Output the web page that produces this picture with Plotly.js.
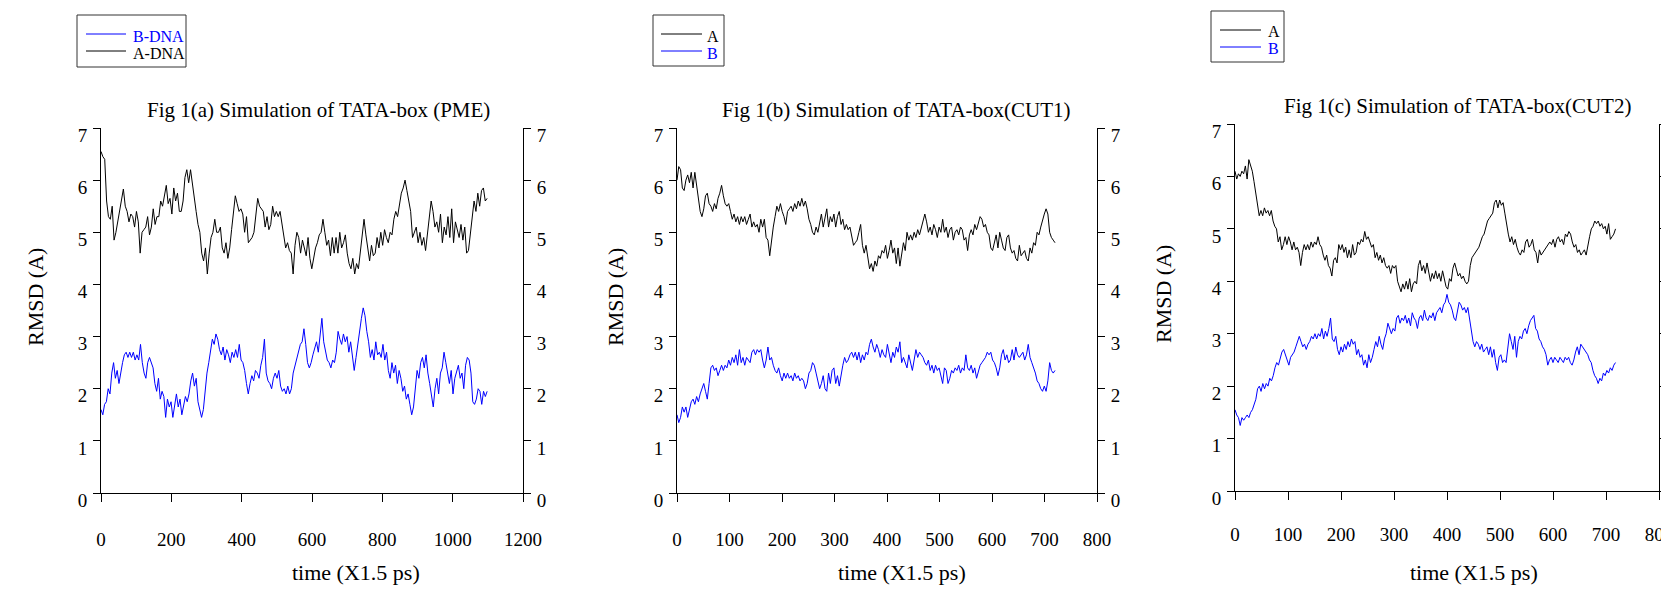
<!DOCTYPE html>
<html>
<head>
<meta charset="utf-8">
<script src="https://cdn.plot.ly/plotly-3.0.1.min.js"></script>
<style>html,body{margin:0;padding:0;background:#fff;}#chart{width:1661px;height:597px;}</style>
</head>
<body>
<div id="chart"></div>
<script>
// ---------------- DATA ----------------
const titles = ["Fig 1(a) Simulation of TATA-box (PME)", "Fig 1(b) Simulation of TATA-box(CUT1)", "Fig 1(c) Simulation of TATA-box(CUT2)"];
const xTitle = "time (X1.5 ps)";
const yTitle = "RMSD (A)";
const names1 = ["B-DNA", "A-DNA"];
const names2 = ["A", "B"];
const xRanges = [[0, 1200], [0, 800], [0, 800]];
const xSteps = [200, 100, 100];
const yRange = [0, 7];
const endTimes = [1098, 720, 718];

// Panel (a) PME
const pmeA = [6.55,6.45,6.4,5.6,5.3,5.25,5.5,4.85,5.0,5.2,5.46,5.6,5.83,5.5,5.4,5.2,5.35,5.3,5.1,5.4,5.2,4.6,5.0,5.05,5.1,5.3,4.95,5.1,5.45,5.15,5.3,5.3,5.6,5.5,5.7,5.9,5.55,5.65,5.35,5.85,5.6,5.75,5.4,5.4,5.6,6.05,6.2,5.95,6.2,5.9,5.6,5.4,5.15,5.0,4.6,4.45,4.7,4.2,4.6,4.9,5.0,5.25,5.0,5.0,5.1,4.7,4.6,4.8,4.5,4.7,5.05,5.35,5.7,5.55,5.4,5.45,5.35,5.0,5.3,4.8,4.85,4.9,5.0,5.35,5.65,5.5,5.45,5.4,5.1,5.3,5.05,5.15,5.5,5.3,5.4,5.3,5.4,5.15,4.9,4.7,4.8,4.65,4.6,4.2,4.75,5.0,4.9,4.6,4.85,4.7,4.55,4.9,4.5,4.3,4.5,4.7,4.8,4.95,5.0,5.25,5.0,4.75,4.85,4.55,4.9,4.6,4.9,4.6,5.0,4.7,4.8,4.95,4.6,4.4,4.3,4.5,4.2,4.4,4.3,4.6,4.9,5.25,4.95,4.7,4.45,4.75,4.55,4.6,4.9,4.7,5.0,4.75,5.05,4.9,4.8,5.0,4.95,5.25,5.4,5.3,5.55,5.75,5.85,6.0,5.8,5.6,5.4,4.9,5.0,5.1,4.8,5.0,4.75,4.9,4.65,5.0,5.35,5.6,5.4,5.1,5.2,5.0,5.35,4.8,5.1,4.95,5.3,4.9,5.45,4.8,5.2,5.05,4.9,5.15,4.85,5.1,4.6,4.65,5.0,5.25,5.6,5.4,5.75,5.5,5.8,5.85,5.6,5.65];
const pmeB = [1.6,1.5,1.7,1.75,2.0,1.9,2.3,2.5,2.2,2.35,2.1,2.35,2.5,2.65,2.7,2.6,2.7,2.6,2.7,2.55,2.65,2.55,2.85,2.5,2.3,2.2,2.5,2.6,2.5,2.4,2.1,1.95,2.2,1.8,1.95,1.85,1.45,1.8,1.65,1.75,1.45,1.7,1.9,1.65,1.8,1.5,1.7,1.85,1.75,1.9,2.15,2.3,2.05,2.2,1.75,1.6,1.45,1.6,2.0,2.3,2.5,2.7,2.95,2.85,3.05,2.95,2.75,2.65,2.8,2.55,2.75,2.65,2.5,2.7,2.6,2.75,2.6,2.85,2.55,2.5,2.35,2.1,1.9,2.1,2.25,2.15,2.35,2.3,2.2,2.45,2.6,2.95,2.3,2.15,2.1,2.0,2.2,2.3,2.2,2.35,2.05,1.95,2.0,1.9,2.05,1.9,2.0,2.3,2.45,2.6,2.75,2.85,2.9,3.15,2.85,2.5,2.4,2.5,2.65,2.8,2.9,2.7,3.05,3.35,2.9,2.7,2.55,2.5,2.4,2.55,2.5,2.7,3.1,2.95,2.85,3.05,2.9,3.0,2.7,2.9,2.6,2.35,2.6,2.85,3.2,3.35,3.55,3.4,3.1,2.9,2.6,2.75,2.55,2.9,2.65,2.7,2.6,2.85,2.55,2.7,2.35,2.2,2.5,2.3,2.45,2.1,2.35,2.2,1.95,2.05,1.8,1.9,1.7,1.5,1.65,2.0,2.35,2.2,2.5,2.6,2.4,2.65,2.3,2.1,1.85,1.65,2.0,2.2,1.9,2.3,2.4,2.7,2.5,2.3,2.1,2.35,1.9,2.2,2.35,2.45,2.2,2.3,2.0,2.45,2.6,2.55,2.3,1.75,1.7,1.8,2.0,1.95,1.7,1.95,1.85,1.95];

// Panel (b) CUT1
const cut1A = [6.0,6.26,6.2,5.85,5.8,6.0,6.1,5.95,6.15,5.85,6.15,5.9,5.6,5.4,5.3,5.45,5.7,5.75,5.55,5.5,5.4,5.55,5.45,5.65,5.75,5.9,5.7,5.55,5.5,5.55,5.4,5.25,5.35,5.2,5.3,5.15,5.3,5.2,5.3,5.15,5.25,5.35,5.1,5.2,5.1,5.15,5.0,5.25,5.1,5.25,4.9,4.85,4.55,4.85,5.1,5.3,5.5,5.4,5.55,5.4,5.3,5.15,5.4,5.45,5.5,5.4,5.55,5.45,5.6,5.5,5.65,5.5,5.6,5.45,5.25,5.15,5.0,4.95,5.1,5.0,5.2,5.35,5.1,5.25,5.45,5.1,5.3,5.2,5.35,5.1,5.3,5.4,5.15,5.25,5.05,5.15,5.05,5.1,4.9,4.75,4.8,4.85,5.0,5.15,4.75,4.6,4.75,4.5,4.3,4.4,4.25,4.45,4.35,4.55,4.5,4.65,4.6,4.75,4.5,4.65,4.85,4.6,4.7,4.4,4.7,4.35,4.6,4.8,4.65,5.0,4.85,4.95,4.85,5.0,4.9,5.05,4.95,5.1,5.2,5.35,5.2,5.0,5.1,4.95,5.15,5.05,4.9,5.1,5.0,5.25,5.0,5.1,4.9,5.05,5.1,4.85,5.0,5.05,4.95,5.1,5.05,4.85,4.9,4.65,4.95,5.05,4.95,5.15,5.05,5.2,5.3,5.25,5.1,5.15,5.0,4.95,4.7,4.65,4.8,4.95,4.7,5.0,4.85,4.7,4.65,4.9,4.95,4.7,4.6,4.65,4.5,4.45,4.75,4.55,4.6,4.65,4.5,4.45,4.7,4.6,4.8,4.75,5.0,4.95,5.1,5.25,5.35,5.45,5.35,5.0,4.9,4.85,4.8];
const cut1B = [1.5,1.35,1.45,1.65,1.55,1.65,1.45,1.6,1.75,1.8,1.7,1.85,1.75,1.9,2.0,2.1,1.95,1.8,2.1,2.4,2.45,2.35,2.4,2.25,2.35,2.45,2.35,2.45,2.4,2.55,2.45,2.6,2.5,2.65,2.45,2.75,2.5,2.6,2.45,2.6,2.55,2.5,2.7,2.75,2.65,2.75,2.7,2.75,2.55,2.4,2.55,2.8,2.55,2.6,2.45,2.35,2.3,2.4,2.25,2.15,2.3,2.2,2.3,2.2,2.25,2.15,2.3,2.2,2.25,2.15,2.2,2.15,2.0,2.1,2.3,2.35,2.5,2.45,2.3,2.15,2.0,2.1,2.25,2.0,1.95,2.3,2.1,2.35,2.4,2.1,2.25,2.05,2.3,2.45,2.6,2.5,2.55,2.65,2.7,2.6,2.7,2.55,2.7,2.5,2.65,2.55,2.7,2.65,2.85,2.95,2.8,2.7,2.85,2.75,2.6,2.75,2.65,2.6,2.85,2.7,2.5,2.7,2.6,2.8,2.7,2.9,2.5,2.6,2.5,2.4,2.65,2.5,2.35,2.55,2.75,2.6,2.7,2.65,2.6,2.5,2.45,2.55,2.35,2.45,2.3,2.45,2.35,2.4,2.25,2.1,2.4,2.35,2.1,2.2,2.35,2.3,2.4,2.35,2.45,2.3,2.4,2.35,2.65,2.4,2.35,2.45,2.3,2.4,2.2,2.35,2.45,2.5,2.55,2.6,2.7,2.65,2.7,2.55,2.5,2.4,2.25,2.4,2.65,2.75,2.55,2.65,2.5,2.55,2.75,2.55,2.8,2.65,2.6,2.65,2.7,2.55,2.65,2.85,2.6,2.5,2.4,2.3,2.15,2.1,2.0,1.95,2.05,1.95,2.15,2.5,2.35,2.3,2.35];

// Panel (c) CUT2
const cut2A = [6.1,5.95,6.05,6.0,6.1,6.05,6.2,5.95,6.32,6.2,6.1,5.9,5.65,5.4,5.25,5.35,5.25,5.4,5.3,5.35,5.25,5.35,5.15,5.05,5.0,4.75,4.85,4.6,4.7,4.85,4.7,4.85,4.75,4.6,4.75,4.6,4.65,4.55,4.3,4.55,4.7,4.6,4.7,4.6,4.75,4.65,4.75,4.7,4.85,4.7,4.65,4.5,4.4,4.5,4.3,4.25,4.1,4.4,4.45,4.35,4.7,4.6,4.7,4.55,4.65,4.45,4.6,4.45,4.7,4.5,4.55,4.75,4.7,4.8,4.75,4.95,4.8,4.85,4.75,4.65,4.7,4.45,4.55,4.4,4.5,4.35,4.45,4.3,4.25,4.3,4.15,4.3,4.25,4.3,4.0,3.9,3.8,3.95,3.85,4.0,3.85,4.05,3.8,3.95,4.0,3.95,4.3,4.4,4.2,4.3,4.15,4.35,4.2,4.0,4.15,4.05,4.2,4.05,4.15,4.0,4.2,4.05,3.9,3.85,4.05,4.0,4.25,4.35,4.2,4.1,4.15,4.05,4.1,4.0,3.95,4.0,4.3,4.45,4.5,4.55,4.6,4.65,4.75,4.85,4.9,5.05,5.15,5.2,5.25,5.3,5.5,5.55,5.4,5.55,5.45,5.5,5.3,5.05,4.9,4.75,4.85,4.7,4.8,4.65,4.55,4.5,4.6,4.55,4.75,4.8,4.65,4.7,4.8,4.6,4.55,4.35,4.6,4.5,4.55,4.6,4.65,4.7,4.75,4.7,4.8,4.65,4.8,4.85,4.75,4.8,4.7,4.9,4.85,4.95,4.9,4.75,4.65,4.7,4.55,4.6,4.5,4.55,4.6,4.5,4.7,4.85,5.0,5.05,5.15,5.1,5.15,5.05,5.1,5.0,5.05,4.9,5.1,4.8,4.85,4.9,5.0];
const cut2B = [1.55,1.45,1.4,1.25,1.4,1.35,1.4,1.45,1.4,1.5,1.55,1.65,1.75,1.95,2.0,1.9,2.05,1.95,2.05,2.0,2.15,2.1,2.2,2.35,2.45,2.4,2.55,2.65,2.7,2.6,2.5,2.4,2.55,2.6,2.65,2.75,2.85,2.95,2.85,2.75,2.8,2.7,2.8,2.85,2.95,2.9,3.0,2.9,3.0,2.95,3.1,2.9,3.05,2.95,3.1,3.3,2.9,2.85,2.95,2.7,2.6,2.75,2.65,2.8,2.7,2.85,2.75,2.9,2.8,2.85,2.6,2.7,2.55,2.6,2.4,2.5,2.35,2.6,2.45,2.55,2.7,2.85,2.75,2.95,2.8,2.7,2.9,3.0,3.2,3.1,3.0,3.1,3.05,3.3,3.35,3.2,3.3,3.25,3.35,3.2,3.3,3.15,3.4,3.3,3.25,3.1,3.3,3.35,3.25,3.45,3.3,3.25,3.35,3.3,3.4,3.25,3.4,3.45,3.5,3.4,3.55,3.6,3.75,3.6,3.55,3.45,3.3,3.25,3.45,3.6,3.55,3.45,3.5,3.4,3.5,3.25,3.0,2.85,2.75,2.85,2.8,2.7,2.8,2.65,2.7,2.75,2.6,2.75,2.55,2.7,2.45,2.3,2.55,2.6,2.45,2.5,2.45,2.7,3.0,2.85,2.7,2.95,2.55,2.85,2.95,2.9,3.05,3.1,3.0,3.15,3.25,3.3,3.35,3.1,3.05,2.9,2.85,2.75,2.7,2.6,2.4,2.5,2.55,2.45,2.55,2.5,2.45,2.55,2.5,2.45,2.55,2.5,2.55,2.45,2.4,2.5,2.65,2.75,2.6,2.8,2.75,2.7,2.65,2.6,2.5,2.45,2.3,2.2,2.15,2.05,2.15,2.1,2.25,2.2,2.3,2.25,2.35,2.3,2.4,2.45];

// ---------------- LAYOUT GEOMETRY (pixels in the 1661x597 figure) ----------------
const W = 1661, H = 597;
const FONT = "Liberation Serif, Times New Roman, serif";
const BLUE = "#0000ff";
const panels = [
  {x0: 101, x1: 523, top: 128, bot: 493, title: [318, 110], ytitle: [35, 297], xtitle: [356, 572], xstand: 21,
   box: [77, 15, 186, 67], rows: [34, 51], line: [86, 126], text: 131, rightLabels: true},
  {x0: 677, x1: 1097, top: 128, bot: 493, title: [897, 110], ytitle: [615, 297], xtitle: [902, 572], xstand: 21,
   box: [653, 15, 724, 66], rows: [34, 51], line: [661, 702], text: 705, rightLabels: true},
  {x0: 1235, x1: 1659, top: 124, bot: 491, title: [1457, 106], ytitle: [1163, 294], xtitle: [1474, 572], xstand: 18,
   box: [1211, 11, 1284, 62], rows: [30, 47], line: [1220, 1261], text: 1266, rightLabels: false}
];
const fx = v => v / W;
const fy = v => 1 - v / H;

function dxOf(arr, end) { return end / (arr.length - 1); }

const series = [
  [{y: pmeB, name: names1[0], color: BLUE}, {y: pmeA, name: names1[1], color: "#000"}],
  [{y: cut1A, name: names2[0], color: "#000"}, {y: cut1B, name: names2[1], color: BLUE}],
  [{y: cut2A, name: names2[0], color: "#000"}, {y: cut2B, name: names2[1], color: BLUE}]
];

const traces = [];
const layout = {
  width: W, height: H,
  margin: {l: 0, r: 0, t: 0, b: 0, pad: 0},
  paper_bgcolor: "#fff", plot_bgcolor: "#fff",
  font: {family: FONT, color: "#000", size: 19},
  annotations: [],
  shapes: [],
  showlegend: false
};

const tickFont = {family: FONT, size: 19, color: "#000"};

panels.forEach((p, i) => {
  const xa = i === 0 ? "x" : "x" + (i + 1);
  const yl = i === 0 ? "y" : "y" + (2 * i + 1);
  series[i].forEach(s => {
    traces.push({
      type: "scatter", mode: "lines",
      x0: 0, dx: dxOf(s.y, endTimes[i]), y: s.y,
      xaxis: xa, yaxis: yl,
      name: s.name,
      line: {color: s.color, width: 1},
      hoverinfo: "skip"
    });
  });
  const xKey = i === 0 ? "xaxis" : "xaxis" + (i + 1);
  const ylKey = i === 0 ? "yaxis" : "yaxis" + (2 * i + 1);
  const yrKey = "yaxis" + (2 * i + 2);
  layout[xKey] = {
    domain: [fx(p.x0), fx(p.x1)], anchor: yl, range: xRanges[i],
    tickmode: "linear", tick0: 0, dtick: xSteps[i],
    showline: true, linecolor: "#000", linewidth: 1,
    ticks: "outside", ticklen: 8, tickcolor: "#000", tickwidth: 1,
    ticklabelstandoff: p.xstand, ticklabeloverflow: "allow",
    showgrid: false, zeroline: false, fixedrange: true,
    tickfont: tickFont
  };
  const yCommon = {
    anchor: xa, range: yRange,
    tickmode: "linear", tick0: 0, dtick: 1,
    showline: true, linecolor: "#000", linewidth: 1,
    ticks: "outside", ticklen: 7, tickcolor: "#000", tickwidth: 1,
    ticklabelshift: 7, ticklabelstandoff: 2,
    showgrid: false, zeroline: false, fixedrange: true,
    tickfont: tickFont
  };
  layout[ylKey] = Object.assign({domain: [fy(p.bot), fy(p.top)]}, yCommon);
  layout[yrKey] = Object.assign({overlaying: yl, side: "right", showticklabels: p.rightLabels}, yCommon);

  // titles
  layout.annotations.push(
    {text: titles[i], xref: "paper", yref: "paper", x: fx(p.title[0]), y: fy(p.title[1]),
     xanchor: "center", yanchor: "middle", showarrow: false, font: {family: FONT, size: 21, color: "#000"}},
    {text: yTitle, xref: "paper", yref: "paper", x: fx(p.ytitle[0]), y: fy(p.ytitle[1]),
     xanchor: "center", yanchor: "middle", textangle: -90, showarrow: false, font: {family: FONT, size: 22, color: "#000"}},
    {text: xTitle, xref: "paper", yref: "paper", x: fx(p.xtitle[0]), y: fy(p.xtitle[1]),
     xanchor: "center", yanchor: "middle", showarrow: false, font: {family: FONT, size: 22, color: "#000"}}
  );

  // legend box (drawn as shapes + text, to match the compact original legend)
  layout.shapes.push({type: "rect", xref: "paper", yref: "paper",
    x0: fx(p.box[0]), x1: fx(p.box[2]), y0: fy(p.box[3]), y1: fy(p.box[1]),
    line: {color: "#333", width: 1}, fillcolor: "#fff"});
  series[i].forEach((s, k) => {
    layout.shapes.push({type: "line", xref: "paper", yref: "paper",
      x0: fx(p.line[0]), x1: fx(p.line[1]), y0: fy(p.rows[k]), y1: fy(p.rows[k]),
      line: {color: s.color, width: 1}});
    layout.annotations.push({text: s.name, xref: "paper", yref: "paper",
      x: fx(p.text), y: fy(p.rows[k] + 2), xanchor: "left", yanchor: "middle",
      showarrow: false, font: {family: FONT, size: 16, color: s.color}});
  });
});

// invisible traces so the right-hand axes are always rendered
panels.forEach((p, i) => {
  traces.push({type: "scatter", mode: "none", x: [], y: [], xaxis: i === 0 ? "x" : "x" + (i + 1),
    yaxis: "y" + (2 * i + 2), showlegend: false, hoverinfo: "skip"});
});

Plotly.newPlot("chart", traces, layout, {displayModeBar: false, staticPlot: true});
</script>
</body>
</html>
